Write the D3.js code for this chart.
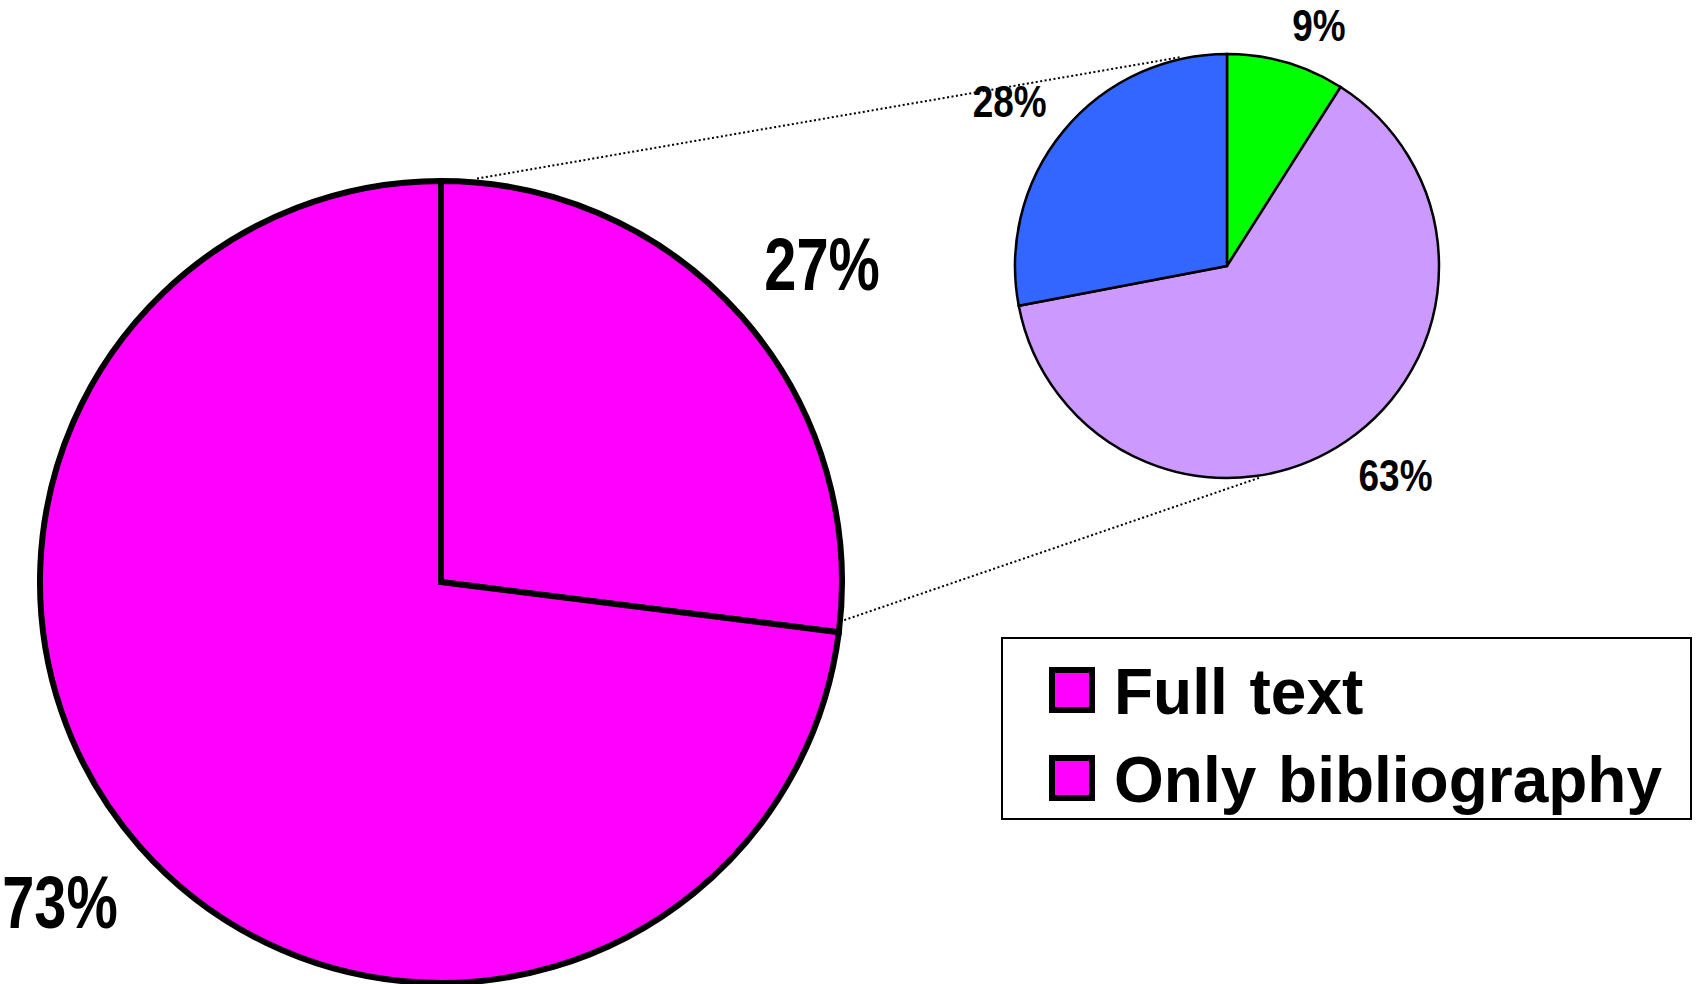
<!DOCTYPE html>
<html>
<head>
<meta charset="utf-8">
<script src="https://cdn.jsdelivr.net/npm/d3@7"></script>
<style>
  html, body { margin: 0; padding: 0; background: #fff; }
  svg { display: block; }
</style>
</head>
<body>
<div id="chart"></div>
<script>
// main pie
const mainCategories = ["Full text", "Only bibliography"];
const mainValues = [27, 73];
const mainColors = ["#FF00FF", "#FF00FF"];

// breakdown pie of the "Full text" share
const subValues = [9, 63, 28];
const subColors = ["#00FF00", "#CC99FF", "#3366FF"];

const width = 1696;
const height = 984;

const svg = d3.select("#chart")
  .append("svg")
  .attr("width", width)
  .attr("height", height);

const labelFont = "'Liberation Sans', Arial, sans-serif";

const pie = d3.pie().sort(null).value(d => d);

// point on a circle, angle clockwise from 12 o'clock
function onCircle(cx, cy, r, a) {
  return [cx + Math.sin(a) * r, cy - Math.cos(a) * r];
}

// percent labels placed outside the slice, box corner kept a gap away from the rim
function drawLabels(g, slices, r, fontSize, squeeze, gap, boxH) {
  g.selectAll("text")
    .data(slices)
    .enter()
    .append("text")
    .attr("text-anchor", "middle")
    .attr("dy", "0.36em")
    .style("font-family", labelFont)
    .style("font-weight", "bold")
    .style("font-size", fontSize + "px")
    .text(d => d.data + "%")
    .attr("transform", function (d) {
      const a = (d.startAngle + d.endAngle) / 2;
      const w = this.getBBox().width * squeeze;
      const h = fontSize * boxH;
      const s = Math.sin(a), c = -Math.cos(a);
      const x = (r + gap) * s + Math.sign(s) * w / 2;
      const y = (r + gap) * c + Math.sign(c) * h / 2;
      return `translate(${x},${y}) scale(${squeeze},1)`;
    });
}

// ---- big pie
const big = { cx: 441, cy: 582, r: 401 };
const bigArc = d3.arc().innerRadius(0).outerRadius(big.r);
const bigG = svg.append("g").attr("transform", `translate(${big.cx},${big.cy})`);

const bigSlices = pie(mainValues);
bigG.selectAll("path")
  .data(bigSlices)
  .enter()
  .append("path")
  .attr("d", bigArc)
  .attr("fill", (d, i) => mainColors[i])
  .attr("stroke", "#000")
  .attr("stroke-width", 6)
  .attr("stroke-linejoin", "miter");

drawLabels(bigG, bigSlices, big.r, 74, 0.78, 30, 0.92);

// ---- small pie
const small = { cx: 1227, cy: 266, r: 212 };
const smallArc = d3.arc().innerRadius(0).outerRadius(small.r);
const smallG = svg.append("g").attr("transform", `translate(${small.cx},${small.cy})`);

const smallSlices = pie(subValues);
smallG.selectAll("path")
  .data(smallSlices)
  .enter()
  .append("path")
  .attr("d", smallArc)
  .attr("fill", (d, i) => subColors[i])
  .attr("stroke", "#000")
  .attr("stroke-width", 2.5);

drawLabels(smallG, smallSlices, small.r, 44, 0.84, 22, 0.72);

// ---- dotted connectors between the pies
const rad = deg => deg * Math.PI / 180;
const connectors = [
  [onCircle(big.cx, big.cy, big.r + 4, rad(5.1)), onCircle(small.cx, small.cy, small.r + 2, rad(347.3))],
  [onCircle(big.cx, big.cy, big.r + 4, rad(95.4)), onCircle(small.cx, small.cy, small.r + 2, rad(171))]
];
svg.append("g")
  .selectAll("line")
  .data(connectors)
  .enter()
  .append("line")
  .attr("x1", d => d[0][0])
  .attr("y1", d => d[0][1])
  .attr("x2", d => d[1][0])
  .attr("y2", d => d[1][1])
  .attr("stroke", "#000")
  .attr("stroke-width", 2)
  .attr("stroke-dasharray", "2,2.5");

// ---- legend
const legend = svg.append("g").attr("transform", "translate(1002,638)");
legend.append("rect")
  .attr("width", 689)
  .attr("height", 181)
  .attr("fill", "#fff")
  .attr("stroke", "#000")
  .attr("stroke-width", 2);

const item = legend.selectAll("g.item")
  .data(mainCategories)
  .enter()
  .append("g")
  .attr("class", "item")
  .attr("transform", (d, i) => `translate(50,${32 + i * 88})`);

item.append("rect")
  .attr("width", 40)
  .attr("height", 40)
  .attr("fill", (d, i) => mainColors[i])
  .attr("stroke", "#000")
  .attr("stroke-width", 6);

item.append("text")
  .attr("x", 62)
  .attr("y", 44)
  .style("font-family", "'Liberation Sans', Arial, sans-serif")
  .style("font-weight", "bold")
  .style("font-size", "64px")
  .style("word-spacing", "4px")
  .text(d => d);
</script>
</body>
</html>
